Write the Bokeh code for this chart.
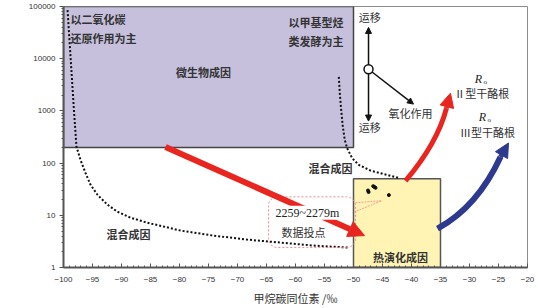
import math
from bokeh.plotting import figure
from bokeh.models import FixedTicker, Label, Arrow, NormalHead, Range1d
from bokeh.embed import file_html
from bokeh.resources import INLINE

# ---------------- data ----------------
x_ticks = list(range(-100, -19, 5))
x_minor = list(range(-100, -19, 1))
y_ticks = [1, 10, 100, 1000, 10000, 100000]
y_tick_labels = ["1", "10", "100", "1000", "10000", "100000"]
y_minor = [k * 10 ** e for e in range(5) for k in range(2, 10)]

# genetic fields
microbial_left, microbial_right, microbial_bottom, microbial_top = -100, -50, 200, 100000
thermal_left, thermal_right, thermal_bottom, thermal_top = -50, -35, 1, 50

# measured samples (2259~2279 m)
sample_d13c = [-46.6, -46.4, -46.2, -47.5, -47.4, -43.9]
sample_ratio = [36.2, 35.0, 33.6, 29.9, 27.9, 24.4]

# boundary curves (dotted)
left_curve_x = [-99.3, -98.2, -97.76, -97.59, -97.07, -96.21, -95.34, -94.14, -92.41,
                -90.69, -88.45, -85.52, -82.76, -79.83, -74.14, -68.28, -62.59, -56.9, -51.03]
left_curve_y = [85000, 1035, 204, 179, 115, 65, 38.4, 24.7, 15.9,
                11.7, 9.0, 7.2, 6.1, 5.1, 4.08, 3.42, 3.0, 2.63, 2.41]
right_curve_x = [-52.53, -52.36, -52.12, -51.84, -51.5, -51.09, -50.22, -49.09,
                 -47.07, -45.34, -43.62, -42.24]
right_curve_y = [4475, 2158, 1035, 497, 277, 192, 124, 92.5, 72, 64, 57, 52]

# ---------------- figure ----------------
p = figure(width=538, height=308, x_range=Range1d(-100, -20), y_range=Range1d(1, 100000),
           y_axis_type="log", output_backend="svg", toolbar_location=None,
           min_border_left=63, min_border_right=11, min_border_top=6, min_border_bottom=40)
p.xgrid.visible = False
p.ygrid.visible = False
p.outline_line_color = "#8c8c8c"
p.outline_line_width = 1
p.background_fill_color = "white"
p.border_fill_color = "white"

ax = p.xaxis[0]
ax.ticker = FixedTicker(ticks=x_ticks, minor_ticks=x_minor)
ax.major_label_text_font = "Liberation Sans"
ax.major_label_text_font_size = "8px"
ax.major_label_text_color = "#333333"
ax.major_tick_in = 4
ax.major_tick_out = 0
ax.minor_tick_in = 2
ax.minor_tick_out = 0
ax.axis_line_width = 2
ax.axis_line_color = "#555555"
ax.major_tick_line_color = "#555555"
ax.minor_tick_line_color = "#555555"
ax.major_label_standoff = 9
ax.axis_label = "甲烷碳同位素 /‰"
ax.axis_label_text_font = "Noto Sans CJK SC"
ax.axis_label_text_font_size = "11px"
ax.axis_label_text_font_style = "normal"
ax.axis_label_text_color = "#333333"
ax.axis_label_standoff = 5

ay = p.yaxis[0]
ay.ticker = FixedTicker(ticks=y_ticks, minor_ticks=y_minor)
ay.major_label_overrides = {t: s for t, s in zip(y_ticks, y_tick_labels)}
ay.major_label_text_font = "Liberation Sans"
ay.major_label_text_font_size = "8px"
ay.major_label_text_color = "#333333"
ay.major_tick_in = 0
ay.major_tick_out = 4
ay.minor_tick_in = 0
ay.minor_tick_out = 2
ay.axis_line_width = 2
ay.axis_line_color = "#555555"
ay.major_tick_line_color = "#555555"
ay.minor_tick_line_color = "#555555"
ay.major_label_standoff = 4

# fields
p.quad(left=[microbial_left], right=[microbial_right], bottom=[microbial_bottom], top=[microbial_top],
       fill_color="#c6c0dd", line_color="#444444", line_width=1.5)
p.quad(left=[thermal_left], right=[thermal_right], bottom=[thermal_bottom], top=[thermal_top],
       fill_color="#fff4b3", line_color="#555555", line_width=1.5)

# dotted boundaries
p.line(left_curve_x, left_curve_y, line_color="#111111", line_width=2, line_dash="2 2")
p.line(right_curve_x, right_curve_y, line_color="#111111", line_width=2, line_dash="2 2")

# callout box
p.quad(left=[-64.66], right=[-49.66], top=[22.6], bottom=[2.41], fill_alpha=0,
       line_color="#f08c8c", line_width=1, line_dash="2 2", border_radius=9)
p.line([-49.66, -45.17, -50.17], [17.4, 19.0, 11.2], line_color="#f08c8c", line_width=0.8, line_dash="2 1")

# samples
p.scatter(sample_d13c, sample_ratio, size=3, marker="circle", fill_color="#111111", line_color="#111111")

RED = "#e8251f"
BLUE = "#2d3a8f"

# straight red arrow
p.add_layout(Arrow(x_start=-82.41, y_start=204, x_end=-48.10, y_end=4.08, line_color=RED, line_width=6,
                   end=NormalHead(size=16, fill_color=RED, line_color=RED)))
# curved red arrow
p.quadratic(x0=[-41.03], y0=[45.7], x1=[-33.97], y1=[1130], cx=[-35.52], cy=[243],
            line_color=RED, line_width=5)
p.add_layout(Arrow(x_start=-33.97, y_start=1130, x_end=-33.28, y_end=2187, line_color=RED, line_width=5,
                   end=NormalHead(size=14, fill_color=RED, line_color=RED)))
# curved blue arrow
p.quadratic(x0=[-35.52], y0=[5.55], x1=[-24.66], y1=[131], cx=[-28.62], cy=[14.6],
            line_color=BLUE, line_width=6)
p.add_layout(Arrow(x_start=-24.66, y_start=131, x_end=-23.28, y_end=243, line_color=BLUE, line_width=5,
                   end=NormalHead(size=14, fill_color=BLUE, line_color=BLUE)))

# migration / oxidation diagram
cx, cy = -47.41, 6280
for xe, ye in [(-47.41, 39700), (-47.41, 639), (-39.66, 1349)]:
    p.add_layout(Arrow(x_start=cx, y_start=cy, x_end=xe, y_end=ye, line_color="#111111", line_width=1.5,
                       end=NormalHead(size=6, fill_color="#111111", line_color="#111111")))
p.scatter([cx], [cy], size=9, marker="circle", fill_color="white", line_color="#111111",
          line_width=1.5, level="overlay")


def lab(x, y, text, size="11px", font="Noto Sans CJK SC", style="bold", align="center",
        color="#333333", angle=0, bg=None):
    p.add_layout(Label(x=x, y=y, text=text, text_font=font, text_font_size=size,
                       text_font_style=style, text_align=align, text_baseline="middle",
                       text_color=color, angle=angle, background_fill_color=bg))


lab(-98.79, 56500, "以二氧化碳", align="left")
lab(-98.79, 24500, "还原作用为主", align="left")
lab(-51.72, 49500, "以甲基型烃", align="right")
lab(-51.72, 21500, "类发酵为主", align="right")
lab(-75.86, 5500, "微生物成因")
lab(-88.79, 4.46, "混合成因")
lab(-53.97, 81, "混合成因")
lab(-41.9, 1.62, "热演化成因")
lab(-57.93, 11.2, "2259~2279m", font="Liberation Serif", style="normal", size="12px",
    color="#222222", bg="white")
lab(-58.6, 4.86, "数据投点", style="normal", color="#333333")
lab(-47.2, 61700, "运移", style="normal")
lab(-47.2, 491, "运移", style="normal")
lab(-40.17, 908, "氧化作用", style="normal")
lab(-28.45, 4045, "R", font="Liberation Serif", style="italic", size="12px", color="#222222")
lab(-27.3, 3500, "o", font="Liberation Serif", style="normal", size="7px", color="#222222")
lab(-27.9, 2187, "Ⅱ型干酪根", style="normal")
lab(-27.76, 762, "R", font="Liberation Serif", style="italic", size="12px", color="#222222")
lab(-26.6, 660, "o", font="Liberation Serif", style="normal", size="7px", color="#222222")
lab(-26.9, 394, "Ⅲ型干酪根", style="normal")

# y axis label as a rotated fraction
lab(-109.2, 767, "C₁", font="Liberation Serif", style="normal", size="11px", color="#333333", angle=math.pi / 2)
lab(-106.6, 767, "C₂+C₃", font="Liberation Serif", style="normal", size="11px", color="#333333", angle=math.pi / 2)
p.add_layout(Arrow(x_start=-107.9, y_start=230, x_end=-107.9, y_end=2200, line_color="#333333",
                   line_width=1, end=None))

open("out.html", "w").write(file_html(p, INLINE))
